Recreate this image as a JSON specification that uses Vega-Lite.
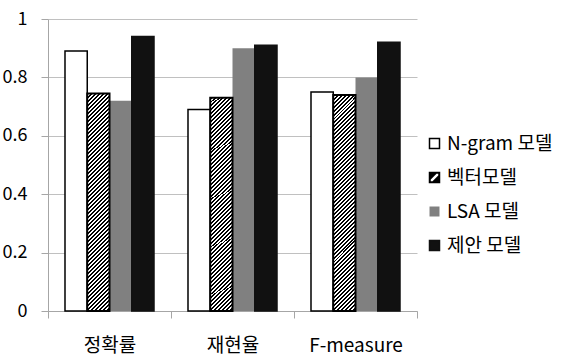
{
  "$schema": "https://vega.github.io/schema/vega-lite/v6.json",
  "width": 369,
  "height": 292,
  "autosize": "none",
  "padding": {"left": 48, "top": 19, "right": 156, "bottom": 45},
  "background": "#ffffff",
  "config": {
    "font": "Noto Sans CJK KR",
    "view": {"stroke": null},
    "legend": {
      "title": null,
      "orient": "none",
      "legendX": 377,
      "legendY": 115,
      "padding": 0,
      "symbolSize": 100,
      "symbolStrokeWidth": 1.5,
      "symbolOpacity": 1,
      "labelFontSize": 19,
      "labelColor": "#000000",
      "labelOffset": 3,
      "rowPadding": 14
    }
  },
  "data": {
    "values": [
      {"metric": "정확률", "model": "N-gram 모델", "value": 0.89},
      {"metric": "정확률", "model": "벡터모델", "value": 0.745},
      {"metric": "정확률", "model": "LSA 모델", "value": 0.72},
      {"metric": "정확률", "model": "제안 모델", "value": 0.94},
      {"metric": "재현율", "model": "N-gram 모델", "value": 0.69},
      {"metric": "재현율", "model": "벡터모델", "value": 0.73},
      {"metric": "재현율", "model": "LSA 모델", "value": 0.90},
      {"metric": "재현율", "model": "제안 모델", "value": 0.91},
      {"metric": "F-measure", "model": "N-gram 모델", "value": 0.75},
      {"metric": "F-measure", "model": "벡터모델", "value": 0.74},
      {"metric": "F-measure", "model": "LSA 모델", "value": 0.80},
      {"metric": "F-measure", "model": "제안 모델", "value": 0.92}
    ]
  },
  "encoding": {
    "x": {
      "field": "metric",
      "type": "nominal",
      "sort": ["정확률", "재현율", "F-measure"],
      "scale": {"paddingInner": 0, "paddingOuter": 0},
      "axis": {
        "title": null,
        "tickBand": "extent",
        "labelAngle": 0,
        "labelFontSize": 19,
        "labelColor": "#000000",
        "labelPadding": 18,
        "tickSize": 7,
        "tickColor": "#a6a6a6",
        "domainColor": "#a6a6a6",
        "grid": false
      }
    },
    "xOffset": {
      "field": "model",
      "type": "nominal",
      "scale": {
        "domain": ["N-gram 모델", "벡터모델", "LSA 모델", "제안 모델"],
        "paddingInner": 0,
        "paddingOuter": 0.764
      }
    },
    "y": {
      "field": "value",
      "type": "quantitative",
      "scale": {"domain": [0, 1]},
      "axis": {
        "title": null,
        "values": [0, 0.2, 0.4, 0.6, 0.8, 1],
        "labelExpr": "'' + datum.value",
        "labelFontSize": 18,
        "labelColor": "#000000",
        "labelPadding": 14,
        "tickSize": 7,
        "tickColor": "#a6a6a6",
        "domainColor": "#a6a6a6",
        "gridColor": "#c0c0c0"
      }
    }
  },
  "layer": [
    {
      "mark": {"type": "bar", "strokeWidth": 1.5},
      "encoding": {
        "fill": {
          "field": "model",
          "type": "nominal",
          "scale": {
            "domain": ["N-gram 모델", "벡터모델", "LSA 모델", "제안 모델"],
            "range": ["#ffffff", "#000000", "#808080", "#111111"]
          }
        },
        "stroke": {
          "field": "model",
          "type": "nominal",
          "scale": {
            "domain": ["N-gram 모델", "벡터모델", "LSA 모델", "제안 모델"],
            "range": ["#000000", "transparent", "transparent", "#111111"]
          }
        }
      }
    },
    {
      "transform": [{"filter": "datum.model === '벡터모델'"}],
      "mark": {
        "type": "bar",
        "stroke": "#000000",
        "strokeWidth": 2,
        "fill": {
          "gradient": "linear",
          "x1": 0, "y1": 0, "x2": 0.1124, "y2": 1.0914,
          "stops": [
            {"offset":0,"color":"#000"},{"offset":0.0083,"color":"#000"},{"offset":0.0083,"color":"#fff"},{"offset":0.0167,"color":"#fff"},
            {"offset":0.0167,"color":"#000"},{"offset":0.025,"color":"#000"},{"offset":0.025,"color":"#fff"},{"offset":0.0333,"color":"#fff"},
            {"offset":0.0333,"color":"#000"},{"offset":0.0417,"color":"#000"},{"offset":0.0417,"color":"#fff"},{"offset":0.05,"color":"#fff"},
            {"offset":0.05,"color":"#000"},{"offset":0.0583,"color":"#000"},{"offset":0.0583,"color":"#fff"},{"offset":0.0667,"color":"#fff"},
            {"offset":0.0667,"color":"#000"},{"offset":0.075,"color":"#000"},{"offset":0.075,"color":"#fff"},{"offset":0.0833,"color":"#fff"},
            {"offset":0.0833,"color":"#000"},{"offset":0.0917,"color":"#000"},{"offset":0.0917,"color":"#fff"},{"offset":0.1,"color":"#fff"},
            {"offset":0.1,"color":"#000"},{"offset":0.1083,"color":"#000"},{"offset":0.1083,"color":"#fff"},{"offset":0.1167,"color":"#fff"},
            {"offset":0.1167,"color":"#000"},{"offset":0.125,"color":"#000"},{"offset":0.125,"color":"#fff"},{"offset":0.1333,"color":"#fff"},
            {"offset":0.1333,"color":"#000"},{"offset":0.1417,"color":"#000"},{"offset":0.1417,"color":"#fff"},{"offset":0.15,"color":"#fff"},
            {"offset":0.15,"color":"#000"},{"offset":0.1583,"color":"#000"},{"offset":0.1583,"color":"#fff"},{"offset":0.1667,"color":"#fff"},
            {"offset":0.1667,"color":"#000"},{"offset":0.175,"color":"#000"},{"offset":0.175,"color":"#fff"},{"offset":0.1833,"color":"#fff"},
            {"offset":0.1833,"color":"#000"},{"offset":0.1917,"color":"#000"},{"offset":0.1917,"color":"#fff"},{"offset":0.2,"color":"#fff"},
            {"offset":0.2,"color":"#000"},{"offset":0.2083,"color":"#000"},{"offset":0.2083,"color":"#fff"},{"offset":0.2167,"color":"#fff"},
            {"offset":0.2167,"color":"#000"},{"offset":0.225,"color":"#000"},{"offset":0.225,"color":"#fff"},{"offset":0.2333,"color":"#fff"},
            {"offset":0.2333,"color":"#000"},{"offset":0.2417,"color":"#000"},{"offset":0.2417,"color":"#fff"},{"offset":0.25,"color":"#fff"},
            {"offset":0.25,"color":"#000"},{"offset":0.2583,"color":"#000"},{"offset":0.2583,"color":"#fff"},{"offset":0.2667,"color":"#fff"},
            {"offset":0.2667,"color":"#000"},{"offset":0.275,"color":"#000"},{"offset":0.275,"color":"#fff"},{"offset":0.2833,"color":"#fff"},
            {"offset":0.2833,"color":"#000"},{"offset":0.2917,"color":"#000"},{"offset":0.2917,"color":"#fff"},{"offset":0.3,"color":"#fff"},
            {"offset":0.3,"color":"#000"},{"offset":0.3083,"color":"#000"},{"offset":0.3083,"color":"#fff"},{"offset":0.3167,"color":"#fff"},
            {"offset":0.3167,"color":"#000"},{"offset":0.325,"color":"#000"},{"offset":0.325,"color":"#fff"},{"offset":0.3333,"color":"#fff"},
            {"offset":0.3333,"color":"#000"},{"offset":0.3417,"color":"#000"},{"offset":0.3417,"color":"#fff"},{"offset":0.35,"color":"#fff"},
            {"offset":0.35,"color":"#000"},{"offset":0.3583,"color":"#000"},{"offset":0.3583,"color":"#fff"},{"offset":0.3667,"color":"#fff"},
            {"offset":0.3667,"color":"#000"},{"offset":0.375,"color":"#000"},{"offset":0.375,"color":"#fff"},{"offset":0.3833,"color":"#fff"},
            {"offset":0.3833,"color":"#000"},{"offset":0.3917,"color":"#000"},{"offset":0.3917,"color":"#fff"},{"offset":0.4,"color":"#fff"},
            {"offset":0.4,"color":"#000"},{"offset":0.4083,"color":"#000"},{"offset":0.4083,"color":"#fff"},{"offset":0.4167,"color":"#fff"},
            {"offset":0.4167,"color":"#000"},{"offset":0.425,"color":"#000"},{"offset":0.425,"color":"#fff"},{"offset":0.4333,"color":"#fff"},
            {"offset":0.4333,"color":"#000"},{"offset":0.4417,"color":"#000"},{"offset":0.4417,"color":"#fff"},{"offset":0.45,"color":"#fff"},
            {"offset":0.45,"color":"#000"},{"offset":0.4583,"color":"#000"},{"offset":0.4583,"color":"#fff"},{"offset":0.4667,"color":"#fff"},
            {"offset":0.4667,"color":"#000"},{"offset":0.475,"color":"#000"},{"offset":0.475,"color":"#fff"},{"offset":0.4833,"color":"#fff"},
            {"offset":0.4833,"color":"#000"},{"offset":0.4917,"color":"#000"},{"offset":0.4917,"color":"#fff"},{"offset":0.5,"color":"#fff"},
            {"offset":0.5,"color":"#000"},{"offset":0.5083,"color":"#000"},{"offset":0.5083,"color":"#fff"},{"offset":0.5167,"color":"#fff"},
            {"offset":0.5167,"color":"#000"},{"offset":0.525,"color":"#000"},{"offset":0.525,"color":"#fff"},{"offset":0.5333,"color":"#fff"},
            {"offset":0.5333,"color":"#000"},{"offset":0.5417,"color":"#000"},{"offset":0.5417,"color":"#fff"},{"offset":0.55,"color":"#fff"},
            {"offset":0.55,"color":"#000"},{"offset":0.5583,"color":"#000"},{"offset":0.5583,"color":"#fff"},{"offset":0.5667,"color":"#fff"},
            {"offset":0.5667,"color":"#000"},{"offset":0.575,"color":"#000"},{"offset":0.575,"color":"#fff"},{"offset":0.5833,"color":"#fff"},
            {"offset":0.5833,"color":"#000"},{"offset":0.5917,"color":"#000"},{"offset":0.5917,"color":"#fff"},{"offset":0.6,"color":"#fff"},
            {"offset":0.6,"color":"#000"},{"offset":0.6083,"color":"#000"},{"offset":0.6083,"color":"#fff"},{"offset":0.6167,"color":"#fff"},
            {"offset":0.6167,"color":"#000"},{"offset":0.625,"color":"#000"},{"offset":0.625,"color":"#fff"},{"offset":0.6333,"color":"#fff"},
            {"offset":0.6333,"color":"#000"},{"offset":0.6417,"color":"#000"},{"offset":0.6417,"color":"#fff"},{"offset":0.65,"color":"#fff"},
            {"offset":0.65,"color":"#000"},{"offset":0.6583,"color":"#000"},{"offset":0.6583,"color":"#fff"},{"offset":0.6667,"color":"#fff"},
            {"offset":0.6667,"color":"#000"},{"offset":0.675,"color":"#000"},{"offset":0.675,"color":"#fff"},{"offset":0.6833,"color":"#fff"},
            {"offset":0.6833,"color":"#000"},{"offset":0.6917,"color":"#000"},{"offset":0.6917,"color":"#fff"},{"offset":0.7,"color":"#fff"},
            {"offset":0.7,"color":"#000"},{"offset":0.7083,"color":"#000"},{"offset":0.7083,"color":"#fff"},{"offset":0.7167,"color":"#fff"},
            {"offset":0.7167,"color":"#000"},{"offset":0.725,"color":"#000"},{"offset":0.725,"color":"#fff"},{"offset":0.7333,"color":"#fff"},
            {"offset":0.7333,"color":"#000"},{"offset":0.7417,"color":"#000"},{"offset":0.7417,"color":"#fff"},{"offset":0.75,"color":"#fff"},
            {"offset":0.75,"color":"#000"},{"offset":0.7583,"color":"#000"},{"offset":0.7583,"color":"#fff"},{"offset":0.7667,"color":"#fff"},
            {"offset":0.7667,"color":"#000"},{"offset":0.775,"color":"#000"},{"offset":0.775,"color":"#fff"},{"offset":0.7833,"color":"#fff"},
            {"offset":0.7833,"color":"#000"},{"offset":0.7917,"color":"#000"},{"offset":0.7917,"color":"#fff"},{"offset":0.8,"color":"#fff"},
            {"offset":0.8,"color":"#000"},{"offset":0.8083,"color":"#000"},{"offset":0.8083,"color":"#fff"},{"offset":0.8167,"color":"#fff"},
            {"offset":0.8167,"color":"#000"},{"offset":0.825,"color":"#000"},{"offset":0.825,"color":"#fff"},{"offset":0.8333,"color":"#fff"},
            {"offset":0.8333,"color":"#000"},{"offset":0.8417,"color":"#000"},{"offset":0.8417,"color":"#fff"},{"offset":0.85,"color":"#fff"},
            {"offset":0.85,"color":"#000"},{"offset":0.8583,"color":"#000"},{"offset":0.8583,"color":"#fff"},{"offset":0.8667,"color":"#fff"},
            {"offset":0.8667,"color":"#000"},{"offset":0.875,"color":"#000"},{"offset":0.875,"color":"#fff"},{"offset":0.8833,"color":"#fff"},
            {"offset":0.8833,"color":"#000"},{"offset":0.8917,"color":"#000"},{"offset":0.8917,"color":"#fff"},{"offset":0.9,"color":"#fff"},
            {"offset":0.9,"color":"#000"},{"offset":0.9083,"color":"#000"},{"offset":0.9083,"color":"#fff"},{"offset":0.9167,"color":"#fff"},
            {"offset":0.9167,"color":"#000"},{"offset":0.925,"color":"#000"},{"offset":0.925,"color":"#fff"},{"offset":0.9333,"color":"#fff"},
            {"offset":0.9333,"color":"#000"},{"offset":0.9417,"color":"#000"},{"offset":0.9417,"color":"#fff"},{"offset":0.95,"color":"#fff"},
            {"offset":0.95,"color":"#000"},{"offset":0.9583,"color":"#000"},{"offset":0.9583,"color":"#fff"},{"offset":0.9667,"color":"#fff"},
            {"offset":0.9667,"color":"#000"},{"offset":0.975,"color":"#000"},{"offset":0.975,"color":"#fff"},{"offset":0.9833,"color":"#fff"},
            {"offset":0.9833,"color":"#000"},{"offset":0.9917,"color":"#000"},{"offset":0.9917,"color":"#fff"},{"offset":1,"color":"#fff"}
          ]
        }
      }
    },
    {
      "mark": {"type": "point", "filled": true, "size": 0, "opacity": 1, "strokeWidth": 0},
      "encoding": {
        "shape": {
          "field": "model",
          "type": "nominal",
          "scale": {
            "domain": ["N-gram 모델", "벡터모델", "LSA 모델", "제안 모델"],
            "range": [
              "square",
              "M-1.15,-1.15L1.15,-1.15L1.15,1.15L-1.15,1.15ZM0.4,-0.75L-0.75,0.4L-0.75,0.75L-0.4,0.75L0.75,-0.4L0.75,-0.75Z",
              "square",
              "square"
            ]
          }
        }
      }
    }
  ]
}
